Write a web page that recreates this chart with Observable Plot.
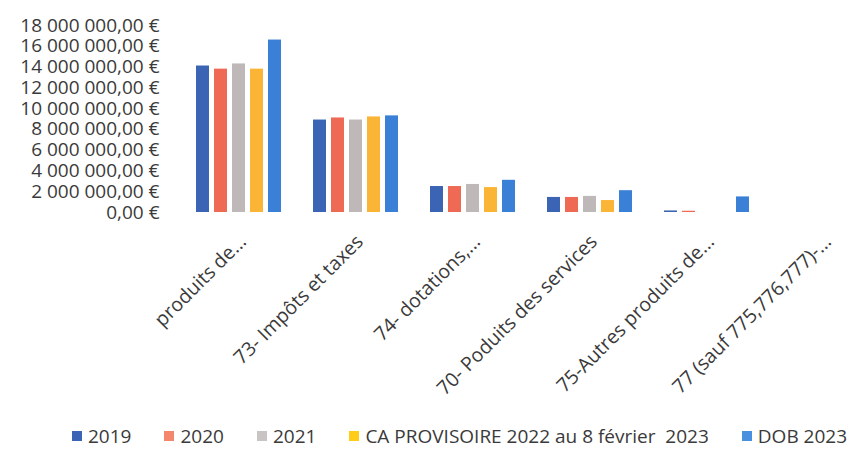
<!DOCTYPE html>
<html>
<head>
<meta charset="utf-8">
<script src="https://cdn.jsdelivr.net/npm/d3@7"></script>
<script src="https://cdn.jsdelivr.net/npm/@observablehq/plot@0.6"></script>
<style>
  html, body { margin: 0; padding: 0; background: #ffffff; }
  #chart { width: 852px; height: 452px; overflow: hidden; position: relative; font-family: "Open Sans", sans-serif; }
  #legend { display: flex; align-items: center; height: 32px; padding-left: 72px; font-size: 19px; color: #3a3a3a; white-space: pre; }
  .item { display: flex; align-items: center; margin-right: 33px; }
  .sw { width: 10px; height: 10px; margin-right: 6px; }
</style>
</head>
<body>
<div id="chart"></div>
<script>
const categories = ["produits de...", "73- Impôts et taxes", "74- dotations,...", "70- Poduits des services", "75-Autres produits de...", "77 (sauf 775,776,777)-..."];
const series = ["2019", "2020", "2021", "CA PROVISOIRE 2022 au 8 février  2023", "DOB 2023"];
const v2019 = [14100000, 8900000, 2500000, 1450000, 150000, 0];
const v2020 = [13800000, 9100000, 2500000, 1450000, 120000, 0];
const v2021 = [14300000, 8900000, 2700000, 1550000, 0, 0];
const vCA   = [13800000, 9200000, 2400000, 1150000, 0, 0];
const vDOB  = [16600000, 9300000, 3100000, 2100000, 1500000, 0];
const yTicks = [0, 2000000, 4000000, 6000000, 8000000, 10000000, 12000000, 14000000, 16000000, 18000000];
const colors = ["#3b64b4", "#ef6a54", "#bfb8b8", "#fbb536", "#3a80d6"];
const legendColors = ["#3b64b4", "#f4866e", "#c8c4c4", "#ffcc1a", "#4a90e0"];

const valuesBySeries = [v2019, v2020, v2021, vCA, vDOB];
const rows = [];
categories.forEach((c, i) => {
  series.forEach((s, j) => rows.push({cat: c, series: s, value: valuesBySeries[j][i]}));
});

const fr = d3.formatLocale({decimal: ",", thousands: "\u00a0", grouping: [3], currency: ["", "\u00a0€"]});
const fmt = d => fr.format(",.2f")(d) + "\u00a0€";

const plot = Plot.plot({
  width: 852,
  height: 420,
  marginLeft: 178,
  marginRight: -32,
  marginTop: 25,
  marginBottom: 208,
  style: {fontFamily: "'Open Sans', sans-serif", fontSize: "17px", color: "#3a3a3a", background: "#ffffff", overflow: "hidden"},
  fx: {domain: categories, paddingInner: 0.27, paddingOuter: 0.135, label: null},
  x: {domain: series, paddingInner: 0.28, paddingOuter: 0, axis: null},
  y: {domain: [0, 18000000], label: null},
  color: {domain: series, range: colors},
  marks: [
    Plot.barY(rows, {fx: "cat", x: "series", y: "value", fill: "series"}),
    Plot.axisY({ticks: yTicks, tickFormat: fmt, tickSize: 0, tickPadding: 37, label: null, fontSize: 19, fill: "#3a3a3a"}),
    Plot.axisFx({anchor: "bottom", tickRotate: -45, tickSize: 0, tickPadding: 26, dx: 4, label: null, fontSize: 19.5, fill: "#3a3a3a"})
  ]
});
document.getElementById("chart").appendChild(plot);

const legend = document.createElement("div");
legend.id = "legend";
series.forEach((s, j) => {
  const it = document.createElement("div");
  it.className = "item";
  const sw = document.createElement("span");
  sw.className = "sw";
  sw.style.background = legendColors[j];
  const tx = document.createElement("span");
  tx.textContent = s;
  it.appendChild(sw);
  it.appendChild(tx);
  legend.appendChild(it);
});
document.getElementById("chart").appendChild(legend);
</script>
</body>
</html>
